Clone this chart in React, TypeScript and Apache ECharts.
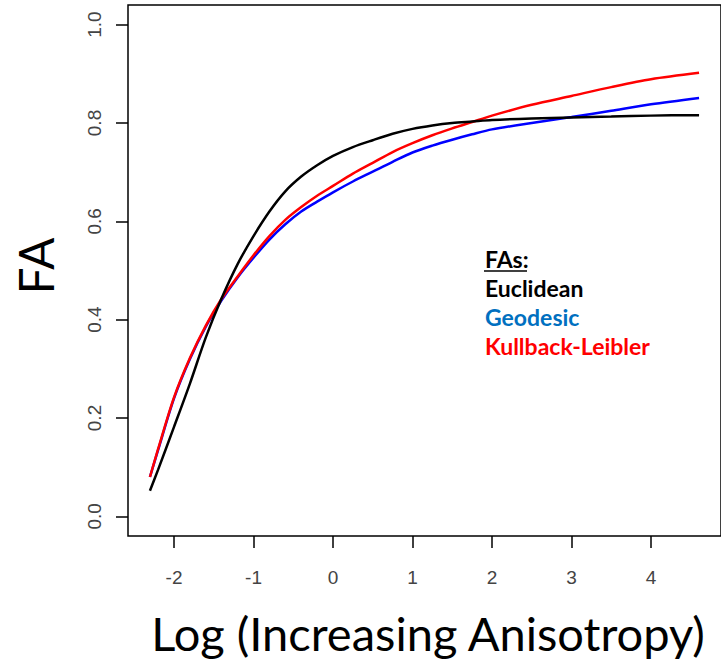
import React, { useEffect, useRef } from "react";
import * as echarts from "echarts";

const xValues = [-2.303, -2.2, -2.0, -1.8, -1.6, -1.4, -1.2, -1.0, -0.8, -0.6, -0.4, -0.2, 0, 0.25, 0.5, 0.75, 1.0, 1.25, 1.5, 1.75, 2.0, 2.5, 3.0, 3.5, 4.0, 4.605];
const euclidean = [0.052, 0.095, 0.182, 0.270, 0.364, 0.444, 0.513, 0.570, 0.620, 0.661, 0.691, 0.714, 0.733, 0.751, 0.765, 0.778, 0.788, 0.795, 0.800, 0.803, 0.806, 0.809, 0.811, 0.813, 0.815, 0.816];
const geodesic = [0.080, 0.135, 0.240, 0.320, 0.386, 0.440, 0.486, 0.526, 0.563, 0.594, 0.620, 0.640, 0.659, 0.681, 0.701, 0.721, 0.740, 0.754, 0.766, 0.777, 0.787, 0.800, 0.812, 0.825, 0.838, 0.851];
const kullbackLeibler = [0.080, 0.137, 0.242, 0.322, 0.388, 0.443, 0.488, 0.531, 0.570, 0.603, 0.629, 0.652, 0.672, 0.697, 0.719, 0.741, 0.759, 0.775, 0.789, 0.802, 0.815, 0.837, 0.855, 0.873, 0.889, 0.902];
const xTicks = [-2, -1, 0, 1, 2, 3, 4];
const yTicks = [0, 0.2, 0.4, 0.6, 0.8, 1.0];
const legendLabels = ["Euclidean", "Geodesic", "Kullback-Leibler"];
const legendColors = ["#000000", "#0070C0", "#FF0000"];

export default function App() {
  const ref = useRef<HTMLDivElement>(null);
  useEffect(() => {
    if (!ref.current) return;
    const chart = echarts.init(ref.current, undefined, { renderer: "svg" });
    const pair = (ys: number[]) => xValues.map((x, i) => [x, ys[i]]);
    const tickLabel = { fontFamily: "Liberation Sans", fontSize: 19, color: "#444" };
    chart.setOption({
      animation: false,
      backgroundColor: "#fff",
      grid: { left: 128, top: 5, width: 603, height: 531, show: true, borderColor: "#000", borderWidth: 1.5, backgroundColor: "transparent" },
      xAxis: {
        type: "value", min: -2.579, max: 4.881,
        axisLine: { show: false, onZero: false }, splitLine: { show: false },
        axisTick: { show: true, length: 12, customValues: xTicks, lineStyle: { color: "#000", width: 1.5 } },
        axisLabel: { ...tickLabel, margin: 32, customValues: xTicks, formatter: (v: number) => String(v) },
      },
      yAxis: {
        type: "value", min: -0.04, max: 1.04,
        axisLine: { show: false, onZero: false }, splitLine: { show: false },
        axisTick: { show: true, length: 12, customValues: yTicks, lineStyle: { color: "#000", width: 1.5 } },
        axisLabel: { ...tickLabel, margin: 24, rotate: 90, customValues: yTicks, formatter: (v: number) => v.toFixed(1) },
      },
      series: [
        { name: "Geodesic", type: "line", data: pair(geodesic), smooth: 0.3, showSymbol: false, lineStyle: { color: "#0000FF", width: 2.5 } },
        { name: "Kullback-Leibler", type: "line", data: pair(kullbackLeibler), smooth: 0.3, showSymbol: false, lineStyle: { color: "#FF0000", width: 2.5 } },
        { name: "Euclidean", type: "line", data: pair(euclidean), smooth: 0.3, showSymbol: false, lineStyle: { color: "#000000", width: 2.5 } },
      ],
      graphic: [
        { type: "text", x: 35, y: 266, rotation: Math.PI / 2, style: { text: "FA", font: "48px Lato", fill: "#000", align: "center", verticalAlign: "middle" } },
        { type: "text", x: 428, y: 633, style: { text: "Log (Increasing Anisotropy)", font: "47px Lato", fill: "#000", align: "center", verticalAlign: "middle" } },
        { type: "text", x: 485, y: 259, style: { text: "FAs:", font: "bold 23px Lato", fill: "#000", align: "left", verticalAlign: "middle" } },
        { type: "line", shape: { x1: 484, y1: 271, x2: 527, y2: 271 }, style: { stroke: "#000", lineWidth: 1.5 } },
        ...legendLabels.map((t, i) => ({
          type: "text", x: 485, y: 288 + i * 29,
          style: { text: t, font: "bold 23px Lato", fill: legendColors[i], align: "left", verticalAlign: "middle" },
        })),
      ],
    });
    return () => chart.dispose();
  }, []);
  return <div ref={ref} style={{ position: "fixed", left: 0, top: 0, width: 721, height: 661 }} />;
}
